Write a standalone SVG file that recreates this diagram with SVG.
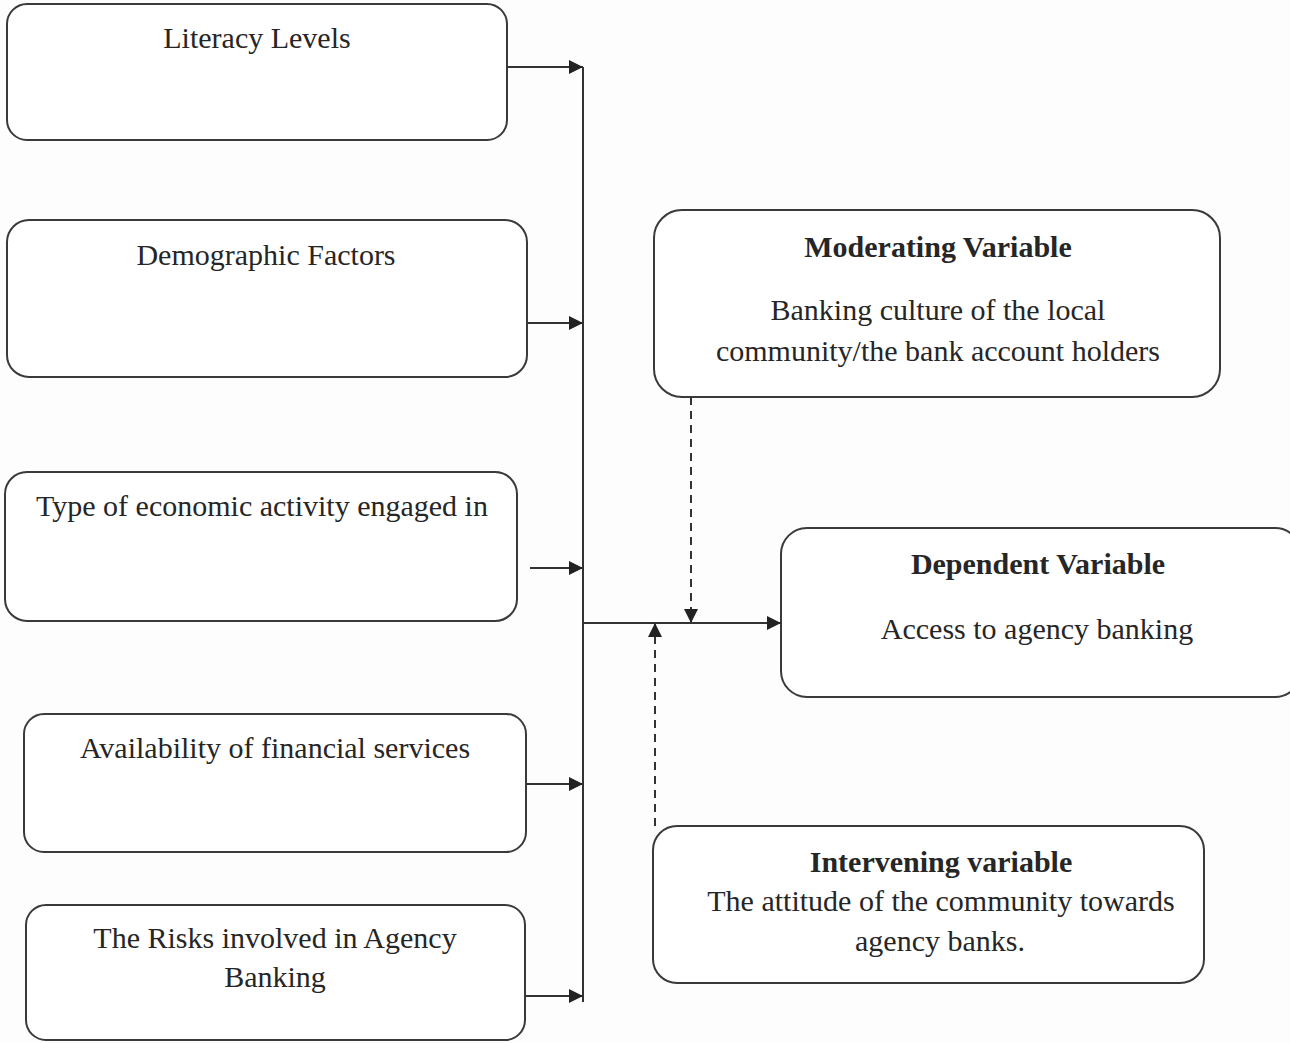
<svg xmlns="http://www.w3.org/2000/svg" width="1290" height="1043" viewBox="0 0 1290 1043">
<style>
.box{fill:#ffffff;stroke:#3a3a3a;stroke-width:2}
.t{font-family:"Liberation Serif","Times New Roman",serif;font-size:30px;fill:#262626;text-anchor:middle}
.b{font-weight:bold}
.ln{stroke:#333;stroke-width:2;fill:none}
.dash{stroke:#333;stroke-width:2;fill:none;stroke-dasharray:8 6}
</style>
<defs>
<marker id="ah" viewBox="0 0 14 14" refX="14" refY="7" markerWidth="14" markerHeight="14" markerUnits="userSpaceOnUse" orient="auto">
<path d="M0,0 L14,7 L0,14 Z" fill="#222"/>
</marker>
</defs>
<rect width="1290" height="1043" fill="#fdfdfd"/>
<g id="literacy">
<rect class="box" x="7" y="4" width="500" height="136" rx="20"/>
<text class="t" x="257" y="48">Literacy Levels</text>
</g>
<g id="demographic">
<rect class="box" x="7" y="220" width="520" height="157" rx="22"/>
<text class="t" x="266" y="265">Demographic Factors</text>
</g>
<g id="economic">
<rect class="box" x="5" y="472" width="512" height="149" rx="22"/>
<text class="t" x="262" y="516">Type of economic activity engaged in</text>
</g>
<g id="availability">
<rect class="box" x="24" y="714" width="502" height="138" rx="20"/>
<text class="t" x="275" y="758">Availability of financial services</text>
</g>
<g id="risks">
<rect class="box" x="26" y="905" width="499" height="135" rx="20"/>
<text class="t" x="275" y="948">The Risks involved in Agency</text>
<text class="t" x="275" y="987">Banking</text>
</g>
<g id="moderating">
<rect class="box" x="654" y="210" width="566" height="187" rx="28"/>
<text class="t b" x="938" y="257">Moderating Variable</text>
<text class="t" x="938" y="320">Banking culture of the local</text>
<text class="t" x="938" y="361">community/the bank account holders</text>
</g>
<g id="dependent">
<rect class="box" x="781" y="528" width="520" height="169" rx="26"/>
<text class="t b" x="1038" y="574">Dependent Variable</text>
<text class="t" x="1037" y="639">Access to agency banking</text>
</g>
<g id="intervening">
<rect class="box" x="653" y="826" width="551" height="157" rx="24"/>
<text class="t b" x="941" y="872">Intervening variable</text>
<text class="t" x="941" y="911">The attitude of the community towards</text>
<text class="t" x="940" y="951">agency banks.</text>
</g>
<g id="connectors">
<line class="ln" x1="583" y1="67" x2="583" y2="1002"/>
<line class="ln" x1="507" y1="67" x2="583" y2="67" marker-end="url(#ah)"/>
<line class="ln" x1="527" y1="323" x2="583" y2="323" marker-end="url(#ah)"/>
<line class="ln" x1="530" y1="568" x2="583" y2="568" marker-end="url(#ah)"/>
<line class="ln" x1="526" y1="784" x2="583" y2="784" marker-end="url(#ah)"/>
<line class="ln" x1="525" y1="996" x2="583" y2="996" marker-end="url(#ah)"/>
<line class="ln" x1="583" y1="623" x2="781" y2="623" marker-end="url(#ah)"/>
<line class="dash" x1="691" y1="397" x2="691" y2="623" marker-end="url(#ah)"/>
<line class="dash" x1="655" y1="826" x2="655" y2="623" marker-end="url(#ah)"/>
</g>
</svg>
